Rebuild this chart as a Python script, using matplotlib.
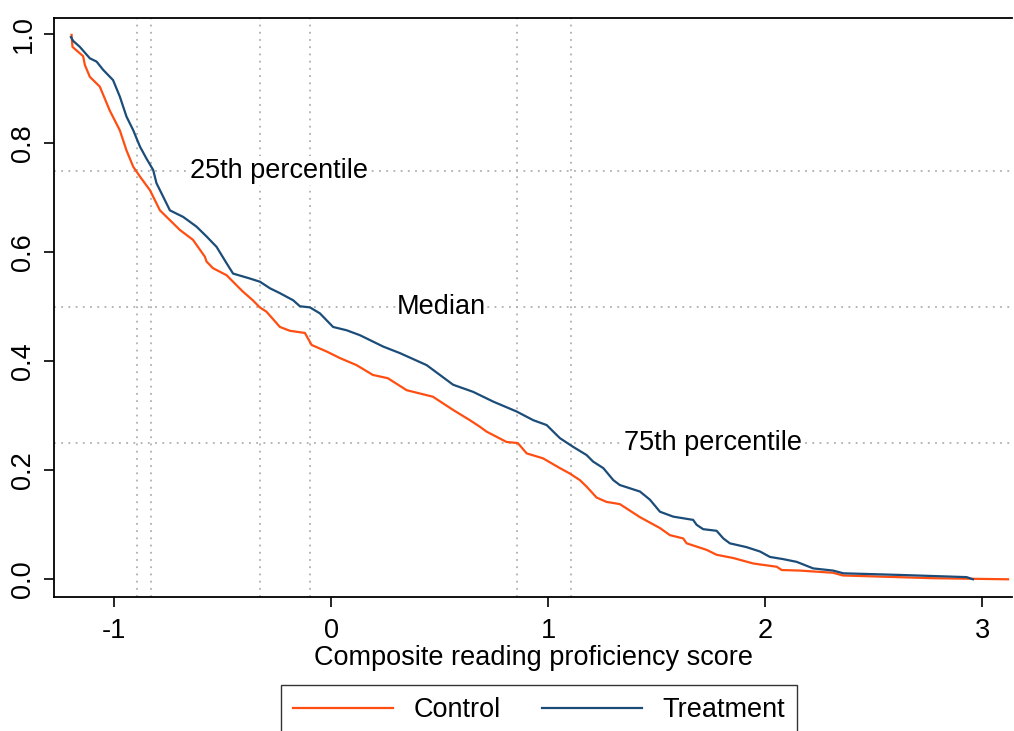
import matplotlib
matplotlib.use("Agg")
import matplotlib.pyplot as plt

plt.rcParams['font.family'] = ['Liberation Sans', 'DejaVu Sans']

# 1 - CDF of composite reading score
control_x = [-1.197, -1.193, -1.144, -1.136, -1.113, -1.067, -1.021, -0.975, -0.944, -0.913,
             -0.882, -0.836, -0.790, -0.744, -0.698, -0.638, -0.583, -0.575, -0.546, -0.483,
             -0.408, -0.362, -0.330, -0.299, -0.237, -0.191, -0.122, -0.091, -0.022, 0.039,
             0.116, 0.191, 0.260, 0.347, 0.468, 0.560, 0.638, 0.684, 0.715, 0.807,
             0.859, 0.900, 0.975, 1.053, 1.099, 1.145, 1.176, 1.222, 1.268, 1.329,
             1.360, 1.422, 1.514, 1.560, 1.621, 1.637, 1.729, 1.775, 1.852, 1.944,
             2.052, 2.075, 2.159, 2.311, 2.357, 2.772, 3.118]
control_y = [0.999, 0.977, 0.960, 0.944, 0.922, 0.904, 0.860, 0.824, 0.787, 0.757,
             0.739, 0.714, 0.677, 0.659, 0.641, 0.623, 0.592, 0.583, 0.571, 0.558,
             0.528, 0.512, 0.499, 0.491, 0.463, 0.456, 0.452, 0.430, 0.418, 0.406,
             0.393, 0.375, 0.369, 0.347, 0.335, 0.311, 0.292, 0.280, 0.271, 0.252,
             0.250, 0.231, 0.222, 0.204, 0.194, 0.182, 0.170, 0.150, 0.142, 0.138,
             0.130, 0.114, 0.094, 0.081, 0.075, 0.066, 0.054, 0.045, 0.039, 0.029,
             0.023, 0.017, 0.016, 0.012, 0.007, 0.002, 0.000]

treat_x = [-1.200, -1.190, -1.159, -1.113, -1.082, -1.052, -1.006, -0.975, -0.944, -0.913,
           -0.882, -0.852, -0.821, -0.806, -0.744, -0.683, -0.621, -0.575, -0.529, -0.483,
           -0.453, -0.376, -0.329, -0.283, -0.237, -0.176, -0.145, -0.099, -0.053, 0.008,
           0.070, 0.131, 0.162, 0.239, 0.316, 0.439, 0.500, 0.561, 0.653, 0.746,
           0.853, 0.930, 0.992, 1.053, 1.114, 1.176, 1.206, 1.253, 1.299, 1.329,
           1.422, 1.468, 1.514, 1.575, 1.667, 1.683, 1.713, 1.775, 1.806, 1.836,
           1.913, 1.975, 2.021, 2.082, 2.144, 2.220, 2.312, 2.359, 2.620, 2.927, 2.956]
treat_y = [0.995, 0.988, 0.977, 0.956, 0.950, 0.935, 0.916, 0.886, 0.849, 0.824,
           0.794, 0.772, 0.751, 0.727, 0.677, 0.665, 0.647, 0.629, 0.610, 0.580,
           0.561, 0.552, 0.546, 0.534, 0.525, 0.512, 0.501, 0.499, 0.488, 0.463,
           0.457, 0.448, 0.442, 0.427, 0.415, 0.393, 0.375, 0.357, 0.344, 0.326,
           0.308, 0.292, 0.283, 0.259, 0.243, 0.228, 0.216, 0.204, 0.182, 0.173,
           0.161, 0.146, 0.124, 0.115, 0.109, 0.100, 0.092, 0.089, 0.075, 0.066,
           0.059, 0.051, 0.041, 0.037, 0.032, 0.020, 0.016, 0.011, 0.008, 0.004, 0.000]

# percentile reference lines
pct_levels = [0.75, 0.5, 0.25]
pct_labels = ['25th percentile', 'Median', '75th percentile']
pct_label_x = [-0.652, 0.302, 1.348]
control_pct = [-0.897, -0.328, 0.855]
treat_pct = [-0.832, -0.097, 1.105]

x_ticks = [-1, 0, 1, 2, 3]
y_ticks = [0.0, 0.2, 0.4, 0.6, 0.8, 1.0]

orange = '#FF4E12'
blue = '#1C4C78'
fs = 19.5

fig = plt.figure(figsize=(10.14, 7.31), dpi=100)
ax = fig.add_axes([0.0537, 0.1833, 0.9443, 0.7921])

grid_kw = dict(color='#b0b0b0', linestyle=(0, (1, 3)), linewidth=1.3, zorder=1)
for lev in pct_levels:
    ax.axhline(lev, **grid_kw)
for v in control_pct + treat_pct:
    ax.axvline(v, **grid_kw)

for lab, lx, lev in zip(pct_labels, pct_label_x, pct_levels):
    ax.text(lx, lev, lab, fontsize=fs, ha='left', va='center', zorder=2,
            bbox=dict(facecolor='white', edgecolor='none', pad=1))

ax.plot(control_x, control_y, color=orange, lw=1.6, label='Control', zorder=3)
ax.plot(treat_x, treat_y, color=blue, lw=1.6, label='Treatment', zorder=3)

ax.set_xlim(-1.276, 3.136)
ax.set_ylim(-0.0325, 1.03)
ax.set_xticks(x_ticks)
ax.set_xticklabels([str(t) for t in x_ticks])
ax.set_yticks(y_ticks)
ax.set_yticklabels([f'{t:.1f}' for t in y_ticks], rotation=90, va='center')
ax.tick_params(length=7, width=1.2, labelsize=fs)
ax.tick_params(axis='x', pad=8)
ax.tick_params(axis='y', pad=6)
ax.spines['right'].set_visible(False)
for s in ['top', 'left', 'bottom']:
    ax.spines[s].set_linewidth(1.3)
ax.set_xlabel('Composite reading proficiency score', fontsize=fs, labelpad=1)

fig.legend(loc='upper center', bbox_to_anchor=(539 / 1014, 1 - 685 / 731), ncol=2,
           fontsize=fs, frameon=True, fancybox=False, edgecolor='black',
           handlelength=3.7, handletextpad=0.75, columnspacing=1.5,
           borderpad=0.45, borderaxespad=0)
fig.legends[0].get_frame().set_linewidth(1.0)

fig.savefig('out.png', dpi=100)
